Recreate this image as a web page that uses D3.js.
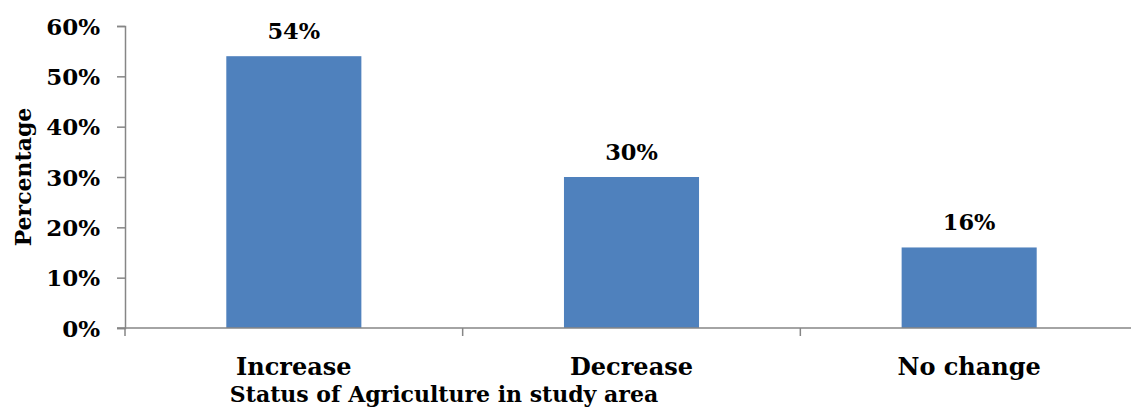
<!DOCTYPE html>
<html>
<head>
<meta charset="utf-8">
<script src="https://cdn.jsdelivr.net/npm/d3@7"></script>
<style>
  html, body { margin: 0; padding: 0; background: #fff; }
  svg text { font-family: "DejaVu Serif", serif; font-weight: bold; fill: #000; }
</style>
</head>
<body>
<svg id="chart" width="1131" height="409"></svg>
<script>
// Share of respondents by perceived change in agriculture
const categories = ["Increase", "Decrease", "No change"];
const values = [54, 30, 16];
const yTicks = [0, 10, 20, 30, 40, 50, 60];

const svg = d3.select("#chart");
const margin = { left: 125, right: -7, top: 26, bottom: 81 };
const width = 1131 - margin.left - margin.right;
const height = 409 - margin.top - margin.bottom;

const g = svg.append("g").attr("transform", `translate(${margin.left},${margin.top})`);

const x = d3.scaleBand().domain(categories).range([0, width]).paddingInner(0.6).paddingOuter(0.3);
const y = d3.scaleLinear().domain([0, 60]).range([height, 0]);

const axisColor = "#868686";

// Bars
g.selectAll("rect.bar")
  .data(values)
  .join("rect")
  .attr("class", "bar")
  .attr("x", (d, i) => x(categories[i]))
  .attr("width", x.bandwidth())
  .attr("y", d => y(d))
  .attr("height", d => height - y(d))
  .attr("fill", "#4F81BD");

// Value labels
g.selectAll("text.val")
  .data(values)
  .join("text")
  .attr("class", "val")
  .attr("x", (d, i) => x(categories[i]) + x.bandwidth() / 2)
  .attr("y", d => y(d) - 17)
  .attr("text-anchor", "middle")
  .style("font-size", "22.5px")
  .text(d => d + "%");

// Y axis
const yAxis = g.append("g")
  .call(d3.axisLeft(y).tickValues(yTicks).tickFormat(d => d + "%").tickSize(8).tickPadding(17));
yAxis.select(".domain").attr("stroke", axisColor).attr("stroke-width", 1.5);
yAxis.selectAll(".tick line").attr("stroke", axisColor).attr("stroke-width", 1.5);
yAxis.selectAll(".tick text")
  .style("font-size", "23px")
  .style("font-family", '"DejaVu Serif", serif')
  .attr("fill", "#000")
  .attr("dy", "0.35em");

// X axis: category boundaries carry tick marks, labels sit under each band centre
const boundaries = d3.range(categories.length + 1).map(i => i * width / categories.length);
const xAxisG = g.append("g").attr("transform", `translate(0,${height})`);
xAxisG.append("line")
  .attr("x1", -8).attr("x2", width)
  .attr("stroke", axisColor).attr("stroke-width", 1.5);
xAxisG.selectAll("line.btick")
  .data(boundaries)
  .join("line")
  .attr("class", "btick")
  .attr("x1", d => d).attr("x2", d => d)
  .attr("y1", 0).attr("y2", 8)
  .attr("stroke", axisColor).attr("stroke-width", 1.5);
xAxisG.selectAll("text.cat")
  .data(categories)
  .join("text")
  .attr("class", "cat")
  .attr("x", d => x(d) + x.bandwidth() / 2)
  .attr("y", 47)
  .attr("text-anchor", "middle")
  .style("font-size", "24px")
  .text(d => d);

// Axis titles
svg.append("text")
  .attr("x", 444)
  .attr("y", 402)
  .attr("text-anchor", "middle")
  .style("font-size", "22px")
  .text("Status of Agriculture in study area");

svg.append("text")
  .attr("transform", "translate(31,177) rotate(-90)")
  .attr("text-anchor", "middle")
  .style("font-size", "22px")
  .text("Percentage");
</script>
</body>
</html>
